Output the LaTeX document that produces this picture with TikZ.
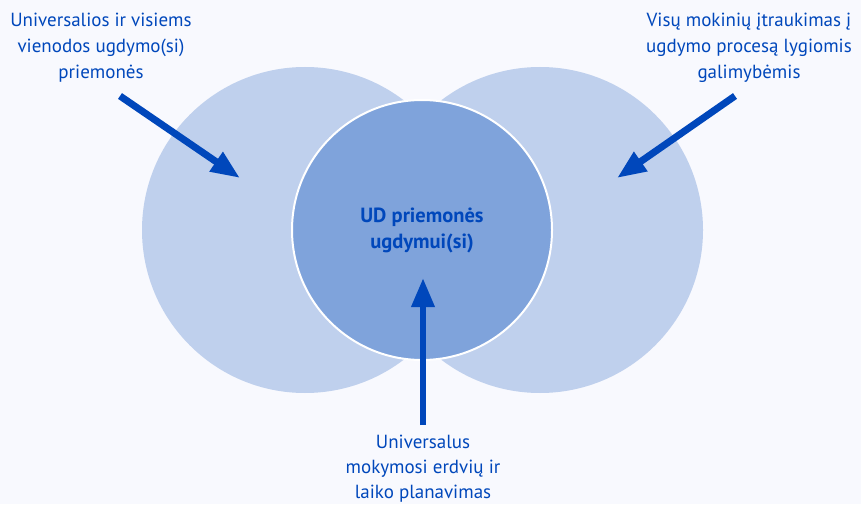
\documentclass[tikz,border=0pt]{standalone}
\usepackage{fontspec}
\setmainfont{PT Sans}
\usetikzlibrary{arrows.meta}

\definecolor{udblue}{RGB}{0,71,187}
\definecolor{midfill}{RGB}{127,163,219}
\definecolor{sidefill}{RGB}{191,208,237}
\definecolor{bgpale}{RGB}{248,249,254}

\begin{document}
\begin{tikzpicture}[x=1pt, y=1pt,
    sidedisc/.style={circle, fill=sidefill, minimum size=326pt, inner sep=0pt},
    middisc/.style={circle, fill=midfill, draw=white, line width=2pt, minimum size=260pt, inner sep=0pt,
        text=udblue, align=center, font=\bfseries\fontsize{20.5}{26}\selectfont},
    labeltext/.style={text=udblue, align=center, font=\fontsize{19}{26}\selectfont},
    udarrow/.style={-{Triangle[length=29pt, width=22pt]}, line width=7pt, udblue}]

    % Page area with the pale background
    \useasboundingbox (0,0) rectangle (861,504);
    \fill[bgpale] (0,0) rectangle (861,504);

    % Two large side circles
    \node[sidedisc] (leftdisc) at (305,274) {};
    \node[sidedisc] (rightdisc) at (540,274) {};

    % Middle circle with the main label
    \node[middisc] (uddisc) at (422,274) {UD priemonės\\ugdymui(si)};

    % Labels around the circles
    \node[labeltext] (lefttext) at (101,456) {Universalios ir visiems\\vienodos ugdymo(si)\\priemonės};
    \node[labeltext] (righttext) at (749,456) {Visų mokinių įtraukimas į\\ugdymo procesą lygiomis\\galimybėmis};
    \node[labeltext, font=\fontsize{19}{25}\selectfont] (bottomtext) at (423,35) {Universalus\\mokymosi erdvių ir\\laiko planavimas};

    % Arrow ends
    \coordinate (lefttail) at (120,408);
    \coordinate (lefttip) at (240,326);
    \coordinate (righttail) at (735,408);
    \coordinate (righttip) at (617,326);
    \coordinate (bottomtail) at (423,79);
    \coordinate (bottomtip) at (423,226);

    % Arrows pointing into the circles
    \draw[udarrow] (lefttail) -- (lefttip);
    \draw[udarrow] (righttail) -- (righttip);
    \draw[udarrow, line width=6.5pt] (bottomtail) -- (bottomtip);

\end{tikzpicture}
\end{document}
